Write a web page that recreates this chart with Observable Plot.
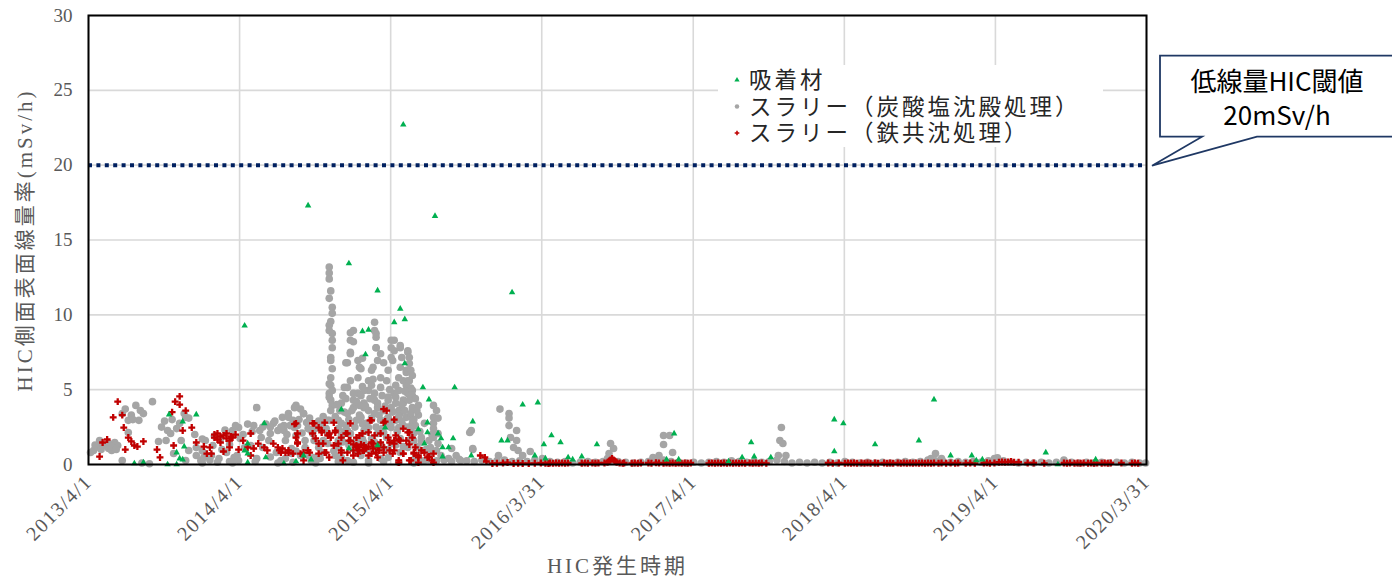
<!DOCTYPE html>
<html><head><meta charset="utf-8">
<script src="https://cdn.jsdelivr.net/npm/d3@7"></script>
<script src="https://cdn.jsdelivr.net/npm/@observablehq/plot@0.6"></script>
<style>body{margin:0;background:#fff}</style>
</head><body><div id="chart"></div>
<script>
// ---- data (x: decimal year, y: mSv/h) ----
const xTickDates = ["2013-04-01","2014-04-01","2015-04-01","2016-03-31","2017-04-01","2018-04-01","2019-04-01","2020-03-31"];
const yTicks = [0,5,10,15,20,25,30];
const threshold = 20;
const seriesNames = ["吸着材","スラリー（炭酸塩沈殿処理）","スラリー（鉄共沈処理）"];
const yLabel = "HIC側面表面線量率(mSv/h)";
const xLabel = "HIC発生時期";
const calloutLines = ["低線量HIC閾値","20mSv/h"];

const adsorbent = [[14.28,9.28],[14.70,17.3],[14.97,13.43],[15.16,11.62],[15.33,22.7],[15.54,16.6],[16.05,11.5],[15.31,10.4],[15.27,9.5],[15.34,9.7],[15.06,8.9],[15.10,9.0],[15.08,7.35],[15.34,6.75],[15.46,5.15],[15.67,5.15],[15.50,4.34],[15.49,2.8],[15.43,2.34],[15.79,2.87],[16.12,4.0],[16.22,4.14],[16.31,1.94],[16.26,1.34],[15.58,1.74],[15.56,2.07],[15.66,1.74],[15.59,1.14],[15.63,1.14],[15.47,1.4],[15.98,1.6],[16.02,1.6],[15.59,0.53],[15.78,0.6],[16.20,0.6],[16.27,0.4],[16.37,1.47],[16.42,0.47],[16.45,0.33],[16.51,0.53],[16.61,1.34],[17.12,2.07],[17.07,0.33],[17.15,0.33],[17.63,1.47],[17.57,0.47],[17.65,0.53],[17.76,0.47],[18.18,3.0],[18.18,0.87],[17.48,0.2],[18.24,2.74],[18.84,4.34],[18.45,1.34],[18.74,1.6],[18.95,0.6],[19.09,0.6],[19.12,0.27],[19.16,0.33],[19.58,0.8],[19.91,0.33],[19.66,0.0],[13.78,3.34],[13.96,3.34],[13.87,2.87],[13.88,1.2],[13.83,0.8],[13.85,0.4],[13.87,0.33],[13.61,0.13],[13.77,0],[13.83,0],[13.55,0.07],[14.41,2.74],[14.30,1.4],[14.28,0.93],[14.30,0.73],[14.42,0.47],[14.30,0.13],[14.54,0.07],[14.62,0.2],[14.72,0.33],[14.67,0.6],[14.92,3.67],[15.21,2.47],[14.97,1.07],[15.16,1.27],[15.49,2.14]];

const slurryCarbonate = [[13.28,0.94],[13.32,1.14],[13.35,1.27],[13.38,1.4],[13.42,1.47],[13.44,1.27],[13.38,1.07],[13.47,0.27],[13.51,2.95],[13.53,3.3],[13.56,3.95],[13.59,3.6],[13.61,3.4],[13.58,2.95],[13.67,4.2],[13.71,1.54],[13.77,2.27],[13.79,2.07],[13.83,2.4],[13.85,2.75],[13.89,3.15],[13.91,3.1],[13.76,1.6],[13.86,1.6],[13.91,0.94],[13.96,0.6],[13.99,0.27],[14.01,0.47],[13.89,0.27],[13.81,0.73],[14.11,0.4],[14.20,2.27],[14.24,2.47],[14.21,0.47],[14.16,0.8],[14.24,0.27],[14.02,1.6],[14.07,1.27],[14.12,1.74],[14.18,1.34],[14.25,1.74],[14.28,1.14],[14.06,0.6],[14.18,0.2],[13.96,1.14],[13.32,1.6],[13.30,1.2],[13.26,0.8],[13.40,0.94],[13.51,2.14],
[14.36,3.8],[14.30,2.7],[14.34,2.6],[14.42,2.7],[14.47,2.75],[14.53,3.15],[14.57,3.4],[14.62,3.95],[14.65,3.7],[14.67,3.4],[14.60,2.95],[14.50,2.27],[14.54,2.27],[14.45,2.07],[14.39,1.8],[14.63,2.6],[14.70,2.4],[14.73,2.07],[14.79,2.47],[14.83,2.95],[14.85,5.3],[14.84,4.75],[14.85,4.3],[14.92,2.75],[14.94,3.5],[14.96,5.15],[15.00,4.3],[15.03,4.75],[15.07,3.8],[15.10,4.95],[15.14,4.3],[15.18,5.15],[15.23,4.3],[15.27,4.75],[15.30,3.6],[14.77,1.14],[14.83,1.4],[14.90,1.6],[14.98,2.07],[15.07,2.27],[15.16,2.07],[15.25,2.47],[14.92,0.47],[15.10,0.27],[15.23,0.47],
[14.32,1.27],[14.40,1.14],[14.49,0.8],[14.59,1.07],[14.65,0.6],[14.36,0.4],[14.52,0.27],[14.72,0.27],[14.79,0.8],[14.38,2.27],[14.44,1.6],[14.55,1.6],[14.68,1.6],
[14.84,13.2],[14.84,12.8],[14.84,12.4],[14.85,11.6],[14.84,11.1],[14.86,10.5],[14.86,10.1],[14.85,9.55],[14.84,9.3],[14.86,8.75],[14.86,7.8],[14.85,7.15],[14.86,6.4],[14.85,5.8],[14.86,4.95],[14.84,4.5],[14.86,8.3],[14.84,8.95],[14.85,6.95],[14.84,5.4],[14.86,3.95],[14.84,2.95],
[15.00,8.95],[14.98,8.3],[15.14,9.5],[15.14,8.95],[15.15,8.5],[14.98,7.4],[14.95,6.8],[15.03,6.95],[15.06,7.1],[15.05,6.4],[15.15,7.8],[15.16,6.95],[15.18,7.4],[15.27,8.3],[15.27,7.6],[15.31,7.8],[15.26,6.95],[15.32,7.15],[15.36,7.6],[15.37,6.75],[15.35,6.3],[15.39,5.95],[15.33,5.6],[15.30,5.8],[15.23,6.3],[15.18,5.8],[15.12,6.3],[15.10,5.6],[15.03,5.8],[14.98,5.6],[14.94,5.15],[15.00,4.75],[15.07,4.95],[15.14,4.75],[15.23,4.5],[15.30,4.95],[15.36,4.75],[15.39,4.95],[14.92,4.1],[15.00,3.8],[15.07,4.1],[15.16,3.8],[15.25,3.8],[15.33,4.1],[15.39,3.8],[14.96,3.4],[15.05,3.15],[15.14,3.4],[15.23,3.15],[15.31,3.4],[15.38,3.15],[14.61,3.8],[14.67,3.4],[14.57,3.15],[14.54,2.6],[14.61,2.47],[14.72,2.27],[14.79,2.75],[14.85,3.6],[14.83,2.07],[14.96,2.27],[15.10,2.47],[15.20,2.14],[15.30,2.47],[15.38,2.27],[14.74,1.6],[14.90,1.14],[15.07,1.47],[15.25,1.4],[15.36,1.14],[15.45,1.8],[15.47,2.75],[15.53,2.75],[15.53,3.15],[15.56,2.07],[15.56,1.4],[15.77,2.14],[15.79,1.0],[15.45,0.94],[15.51,0.73],[15.63,0.4],[15.71,0.27],[15.18,0.4],[14.96,0.27],[14.74,0.47],
[15.36,7.5],[15.37,7.15],[15.35,6.15],[15.36,5.6],[15.38,5.1],[15.39,4.6],[15.33,4.3],[15.35,3.15],[15.39,2.75],[15.53,3.95],[15.55,3.6],[15.56,3.1],[15.53,2.4],[15.53,1.8],[15.51,1.14],[15.55,0.94],[15.79,1.07],[15.78,2.27],[15.97,3.7],[16.03,3.4],[16.03,3.1],[16.03,2.6],[16.08,2.27],[16.04,1.8],[16.08,1.6],[16.06,1.14],[16.09,0.94],[16.17,0.87],[16.12,0.6],[15.96,0.6],[16.25,0.4],
[14.90,2.95],[14.95,2.6],[15.02,2.95],[15.08,2.75],[15.12,3.1],[15.18,2.95],[15.22,2.6],[15.28,2.95],[15.33,2.6],[15.41,2.6],[15.43,3.3],[15.04,3.95],[15.10,3.6],[15.20,3.6],[15.28,4.1],[14.95,4.4],[15.05,4.6],[15.12,5.3],[15.22,5.6],[15.28,5.3],[15.35,5.3],[15.41,4.4],[15.43,3.95],[14.92,1.94],[15.02,1.6],[15.12,1.74],[15.22,1.8],[15.31,1.74],[15.40,1.6],[14.98,1.07],[15.15,0.94],[15.31,0.8],[15.05,0.6],[14.88,0.6],[14.80,1.6],[14.68,1.14],[14.62,1.94],[14.59,0.73],[15.41,0.47],[15.47,0.27],[15.58,0.6],[15.65,1.07],[15.68,0.6],
[15.25,8.3],[15.25,7.8],[15.31,7.95],[14.98,8.8],[15.00,8.2],[14.98,7.5],[14.96,6.8],[15.04,6.5],[15.15,8.75],[15.15,7.8],[15.13,6.5],[15.20,6.8],[15.25,7.15],[15.31,6.5],[15.38,6.3],[15.37,5.6],
[14.88,3.2],[14.89,4.0],[14.90,2.4],[14.91,3.6],[14.93,4.6],[14.94,2.2],[14.97,3.0],[14.99,3.6],[15.01,2.5],[15.02,4.2],[15.04,3.3],[15.06,2.7],[15.06,5.2],[15.08,3.9],[15.09,2.2],[15.11,4.4],[15.12,3.0],[15.13,5.7],[15.15,2.5],[15.16,4.1],[15.17,3.3],[15.19,4.6],[15.19,2.4],[15.21,3.9],[15.22,3.0],[15.24,5.0],[15.25,2.8],[15.26,3.5],[15.28,4.5],[15.29,2.2],[15.30,3.2],[15.32,4.0],[15.32,2.9],[15.34,3.6],[15.34,4.9],[15.36,2.5],[15.37,4.3],[15.38,3.4],[15.40,3.0],[15.40,2.1],[15.42,3.6],[15.44,2.2],[14.89,1.3],[14.93,1.5],[14.97,1.3],[15.01,1.0],[15.06,1.7],[15.09,1.0],[15.14,1.5],[15.19,1.2],[15.23,1.0],[15.28,1.3],[15.33,1.2],[15.38,1.7],[15.42,1.2],[15.45,1.5],[15.48,1.0],[15.50,1.6],[15.52,2.0],
[14.45,2.5],[14.48,2.9],[14.52,2.5],[14.56,2.0],[14.58,2.6],[14.64,3.0],[14.66,2.1],[14.69,2.8],[14.71,3.1],[14.75,2.4],[14.77,2.9],[14.80,3.2],[14.82,2.4],[14.40,2.5],[14.33,2.2],[14.27,2.0],[14.22,2.6],[14.15,2.3],[14.08,1.9],[14.00,1.7],[13.95,2.0],[13.73,2.5],[13.75,2.9],[13.80,3.0],[13.88,3.4],[14.45,0.5],[14.55,0.4],[14.62,0.9],[14.70,0.6],[14.78,0.4],[14.87,0.9],[14.00,0.9],[14.05,0.3],[14.13,1.0],[14.23,0.6],[13.29,1.3],[13.33,1.0],[13.36,1.3],[13.40,1.2],[13.43,1.0],[13.47,3.4],[13.49,3.7],[13.54,3.0],
[13.60,0.1],[13.65,0.05],[14.00,0.1],[14.10,0.15],[14.20,0.1],[14.35,0.2],[14.50,0.1],[14.60,0.15],[14.75,0.1],[14.90,0.2],[15.00,0.15],[15.10,0.1],[15.20,0.2],[15.30,0.15],[15.40,0.1],
[16.70,1.4],[16.72,1.07],[16.69,0.73],[16.68,0.4],[17.05,1.94],[17.09,1.94],[17.05,1.34],[17.11,0.8],[16.98,0.47],[17.83,2.47],[17.82,1.6],[17.84,1.4],[17.81,0.6],[17.86,0.6],[18.85,0.73],[18.82,0.4],[18.89,0.4],[19.24,0.4],[19.26,0.45],
[15.45,0.2],[15.5,0.3],[15.55,0.25],[15.6,0.3],[15.65,0.2],[15.7,0.35],[15.75,0.25],[15.8,0.2],[15.85,0.3],[15.9,0.2],[15.95,0.25],[16.0,0.3],[16.05,0.2],[16.1,0.25],[16.15,0.2],[16.2,0.3],[16.25,0.15],[16.3,0.2],[16.35,0.15],[16.4,0.2],[16.45,0.1],[16.5,0.15],[16.55,0.2],[16.6,0.15],[16.65,0.2],[16.7,0.3],[16.75,0.2],[16.8,0.15],[16.85,0.1],[16.9,0.15],[16.95,0.2],[17.0,0.4],[17.02,0.6],[17.05,0.3],[17.1,0.2],[17.15,0.15],[17.2,0.1],[17.25,0.15],[17.3,0.1],[17.35,0.15],[17.4,0.2],[17.45,0.15],[17.5,0.25],[17.55,0.2],[17.6,0.15],[17.65,0.2],[17.7,0.15],[17.75,0.2],[17.8,0.3],[17.85,0.2],[17.9,0.1],[17.95,0.15],[18.0,0.1],[18.05,0.15],[18.1,0.1],[18.15,0.15],[18.2,0.1],[18.25,0.2],[18.3,0.15],[18.35,0.1],[18.4,0.15],[18.45,0.1],[18.5,0.15],[18.55,0.1],[18.6,0.15],[18.65,0.2],[18.7,0.15],[18.75,0.2],[18.8,0.3],[18.85,0.25],[18.9,0.2],[18.95,0.15],[19.0,0.2],[19.05,0.15],[19.1,0.2],[19.15,0.15],[19.2,0.25],[19.25,0.3],[19.3,0.25],[19.35,0.15],[19.4,0.1],[19.45,0.15],[19.5,0.1],[19.55,0.15],[19.6,0.1],[19.65,0.15],[19.7,0.3],[19.75,0.15],[19.8,0.1],[19.85,0.15],[19.9,0.1],[19.95,0.15],[20.0,0.1],[20.05,0.15],[20.1,0.1],[20.15,0.15],[20.2,0.1],[20.24,0.1]];

const slurryIron = [[13.44,4.2],[13.41,3.15],[13.47,3.3],[13.48,2.47],[13.51,1.8],[13.53,1.54],[13.55,1.27],[13.57,1.2],[13.61,1.54],[13.49,1.0],[13.37,1.67],[13.34,1.47],[13.32,0.53],[13.70,1.0],[13.72,0.47],[13.82,4.2],[13.85,4.55],[13.85,4.0],[13.80,3.5],[13.89,3.6],[13.93,2.47],[13.87,2.27],[13.81,1.27],[13.96,1.47],[14.01,1.2],[14.03,0.73],[14.06,0.73],[14.05,1.14],[14.08,1.8],[14.10,2.07],[14.14,1.94],[14.16,1.74],[14.18,1.6],[14.20,1.8],[14.12,1.47],[14.14,0.87],[14.18,1.14],[14.24,1.0],[14.27,1.6],[14.10,1.67],[14.08,2.0],[14.16,2.07],[14.22,2.0],[14.19,1.87],[14.12,1.87],
[14.32,2.07],[14.30,1.14],[14.34,1.07],[14.32,0.6],[14.37,1.4],[14.41,1.14],[14.43,0.94],[14.47,1.4],[14.50,1.14],[14.51,0.94],[14.53,1.07],[14.55,0.8],[14.57,0.8],[14.60,0.73],[14.62,1.8],[14.63,1.47],[14.62,2.75],[14.67,0.8],[14.71,0.8],[14.67,0.27],[14.73,2.75],[14.73,2.07],[14.77,2.47],[14.79,2.27],[14.75,1.74],[14.80,1.4],[14.82,0.8],[14.84,2.07],[14.85,1.8],[14.88,2.27],[14.90,1.4],[14.92,0.8],[14.93,0.27],[14.95,2.07],[14.97,1.6],[15.00,0.94],[15.02,1.27],[15.03,0.73],[15.04,1.94],[15.06,0.94],[15.08,1.07],[15.10,0.6],[15.12,2.95],[15.13,1.4],[15.15,0.8],[15.17,0.94],[15.20,1.14],[15.20,2.8],[15.22,3.6],[15.24,0.94],[15.26,0.73],[15.27,1.4],[15.30,0.27],
[14.61,2.7],[14.74,2.75],[14.81,2.8],[14.87,2.8],[14.98,2.75],[15.11,2.95],[15.20,3.7],[15.21,2.87],[15.27,3.0],[14.63,2.07],[14.63,1.4],[14.79,2.14],[14.83,1.94],[14.88,2.14],[14.92,1.8],[14.96,2.07],[15.02,1.8],[15.06,2.07],[15.10,2.14],[15.14,1.94],[15.18,2.07],[15.23,1.8],[15.28,1.94],[15.33,2.4],[15.36,2.14],[15.39,1.8],[15.31,1.6],[15.27,1.6],[15.24,1.47],[15.18,1.47],[15.12,1.47],[15.07,1.27],[15.03,1.14],[14.96,0.8],[14.92,0.94],[14.87,1.27],[14.81,0.8],[14.77,1.4],[14.70,0.94],[14.65,0.73],[14.57,0.94],[14.52,0.8],[14.77,0.73],[14.84,0.47],[15.00,0.6],[15.07,0.94],[15.12,0.73],[15.16,0.47],[15.20,0.8],[15.27,0.94],[15.33,0.73],[15.40,0.8],[15.43,0.47],[15.38,0.27],[15.30,0.13],[15.53,0.13],[15.49,0.47],[15.47,0.8],[15.53,0.73],
[15.00,1.34],[15.02,1.2],[15.05,1.34],[15.08,1.14],[15.10,1.2],[15.13,1.07],[15.16,1.2],[15.04,0.94],[14.98,1.6],
[15.37,2.14],[15.30,1.67],[15.35,1.6],[15.37,1.34],[15.41,1.14],[15.40,0.73],[15.43,0.6],[15.45,0.94],[15.33,0.73],[15.37,0.27],[15.43,0.13],[15.50,0.53],[15.52,0.27],[15.84,0.6],[15.87,0.47],[15.88,0.2],[15.92,0.07],[16.02,0.13],[16.06,0.07],[16.12,0.07],[16.16,0.07],[16.29,0.07],[15.95,0.08],[15.99,0.1],[16.09,0.08],[16.20,0.08],[16.24,0.1],
[16.27,0.08],[16.30,0.1],[16.32,0.08],[16.34,0.1],[16.36,0.08],[16.38,0.1],[16.40,0.08],[16.42,0.1],[16.51,0.08],[16.53,0.1],[16.55,0.08],[16.58,0.1],[16.60,0.08],[16.62,0.1],[16.66,0.1],[16.68,0.15],[16.69,0.22],[16.70,0.3],[16.71,0.4],[16.72,0.3],[16.73,0.22],[16.74,0.15],[16.76,0.1],[16.78,0.08],[16.79,0.1],[16.84,0.08],[16.86,0.1],[16.88,0.08],[16.90,0.1],[16.95,0.1],[16.97,0.08],[17.00,0.12],[17.02,0.1],[17.05,0.08],[17.07,0.1],[17.09,0.08],[17.11,0.1],[17.13,0.08],[17.15,0.1],[17.17,0.08],[17.19,0.1],[17.21,0.08],[17.23,0.1],[17.35,0.08],[17.37,0.1],[17.39,0.08],[17.41,0.1],[17.43,0.08],[17.45,0.1],[17.47,0.08],[17.49,0.1],[17.51,0.08],[17.53,0.1],[17.55,0.08],[17.57,0.1],[17.59,0.08],[17.62,0.1],[17.64,0.08],[17.66,0.1],[17.68,0.08],[17.70,0.1],[17.73,0.08],[18.14,0.1],[18.17,0.08],[18.21,0.1],[18.25,0.08],[18.27,0.1],[18.29,0.08],[18.31,0.1],[18.33,0.08],[18.36,0.1],[18.38,0.08],[18.40,0.1],[18.42,0.08],[18.45,0.1],[18.47,0.08],[18.51,0.1],[18.53,0.08],[18.55,0.1],[18.57,0.08],[18.60,0.1],[18.62,0.08],[18.64,0.1],[18.66,0.08],[18.68,0.1],[18.70,0.08],[18.72,0.1],[18.74,0.08],[18.76,0.1],[18.78,0.08],[18.80,0.1],[18.82,0.08],[18.84,0.1],[18.87,0.08],[18.89,0.1],[18.92,0.08],[18.95,0.1],[18.98,0.08],[19.00,0.1],[19.05,0.08],[19.08,0.1],[19.11,0.08],[19.17,0.1],[19.19,0.12],[19.21,0.08],[19.24,0.1],[19.27,0.15],[19.29,0.17],[19.31,0.15],[19.33,0.17],[19.35,0.2],[19.37,0.15],[19.40,0.15],[19.46,0.1],[19.50,0.1],[19.57,0.08],[19.70,0.1],[19.72,0.08],[19.74,0.1],[19.77,0.08],[19.79,0.1],[19.81,0.08],[19.83,0.1],[19.86,0.08],[19.88,0.1],[19.90,0.08],[19.92,0.1],[19.95,0.08],[19.97,0.1],[19.99,0.08],[20.01,0.1],[20.08,0.1],[20.15,0.08],[20.17,0.1],[20.19,0.08]];

// ---- helpers ----
function yrToDate(v){ const y = 2000 + Math.floor(v); const f = v - Math.floor(v);
  const a = Date.UTC(y,0,1), b = Date.UTC(y+1,0,1); return new Date(a + f*(b-a)); }
const ticks = xTickDates.map(d => new Date(d + "T00:00:00Z"));
const fmt = d3.utcFormat("%Y/%-m/%-d");
const colors = {green:"#00b050", gray:"#a5a5a5", red:"#c00000"};
const serif = "'Liberation Serif','Noto Sans CJK JP',serif";
const sans = "'Noto Sans CJK JP','Noto Sans',sans-serif";

const plot = Plot.plot({
  width: 1392, height: 585,
  marginLeft: 88, marginRight: 246, marginTop: 15, marginBottom: 121,
  style: {fontFamily: serif, background: "white", overflow: "visible"},
  x: {type: "utc", domain: [ticks[0], ticks[ticks.length-1]]},
  y: {domain: [0, 30]},
  marks: [
    Plot.gridX(ticks, {stroke: "#d9d9d9", strokeOpacity: 1, strokeWidth: 1.6}),
    Plot.gridY(yTicks, {stroke: "#d9d9d9", strokeOpacity: 1, strokeWidth: 1.6}),
    Plot.ruleY([threshold], {stroke: "#002060", strokeWidth: 4, strokeDasharray: "4,4.4"}),
    Plot.dot(slurryCarbonate, {x: d => yrToDate(d[0]), y: d => d[1], r: 3.8, fill: colors.gray, stroke: "none"}),
    Plot.dot(slurryIron, {x: d => yrToDate(d[0]), y: d => d[1], symbol: "cross", r: 2.9, fill: colors.red, stroke: "none"}),
    Plot.dot(adsorbent, {x: d => yrToDate(d[0]), y: d => d[1], symbol: "triangle", r: 2.4, fill: colors.green, stroke: "none"}),
    Plot.frame({stroke: "black", strokeWidth: 2}),
    Plot.axisY(yTicks, {tickSize: 0, tickPadding: 16, fontSize: 19, fill: "#595959", label: null}),
    Plot.axisX(ticks, {tickSize: 0, tickPadding: 14, tickRotate: -45, tickFormat: fmt, fontSize: 20, fill: "#595959", label: null, className: "xtick"}),
    Plot.text([yLabel], {frameAnchor: "left", textAnchor: "middle", dx: -63, rotate: -90, fontSize: 21, fill: "#595959", className: "ylab"}),
    Plot.text([xLabel], {frameAnchor: "bottom", textAnchor: "middle", dy: 108, fontSize: 21, fill: "#595959", className: "xlab"})
  ]
});
document.getElementById("chart").appendChild(plot);

const svg = d3.select(plot);
svg.selectAll(".ylab text, .xlab text").attr("letter-spacing", "3px");
svg.selectAll(".xtick text").attr("letter-spacing", "1.5px");

const xs = plot.scale("x"), ys = plot.scale("y");
const fr = {left: xs.range[0], right: xs.range[1], top: ys.range[1], bottom: ys.range[0]};

// legend (inside plot)
const lg = svg.append("g").attr("text-anchor", "start");
const lx = fr.left + 630, ly = fr.top + 50;
lg.append("rect").attr("x", lx).attr("y", ly).attr("width", 385).attr("height", 82).attr("fill", "white");
const syms = [[d3.symbolTriangle, colors.green, 12], [d3.symbolCircle, colors.gray, 16], [d3.symbolCross, colors.red, 12]];
seriesNames.forEach((name, i) => {
  const cy = ly + 15 + i * 26.5;
  lg.append("path").attr("d", d3.symbol(syms[i][0], syms[i][2])()).attr("fill", syms[i][1])
    .attr("transform", `translate(${lx + 19},${cy})`);
  lg.append("text").attr("x", lx + 31).attr("y", cy).attr("dy", "0.36em").attr("text-anchor", "start")
    .attr("font-family", sans).attr("font-size", 22.5).attr("letter-spacing", "3px").attr("fill", "#262626").text(name);
});

// callout
const tipX = fr.right + 6, tipY = ys.apply(threshold) + 1;
const bl = tipX + 8, bt = tipY - 110, bb = tipY - 29, br = tipX + 244;
const co = svg.append("g");
co.append("path")
  .attr("d", `M${bl},${bt}H${br}V${bb}H${tipX + 105}L${tipX},${tipY}L${tipX + 50},${bb}H${bl}Z`)
  .attr("fill", "white").attr("stroke", "#1f3864").attr("stroke-width", 1.8);
calloutLines.forEach((t, i) => {
  co.append("text").attr("x", tipX + 125).attr("y", bt + 26 + i * 34).attr("dy", "0.36em")
    .attr("text-anchor", "middle").attr("font-family", sans).attr("font-size", 26).attr("fill", "black").text(t);
});
</script></body></html>
